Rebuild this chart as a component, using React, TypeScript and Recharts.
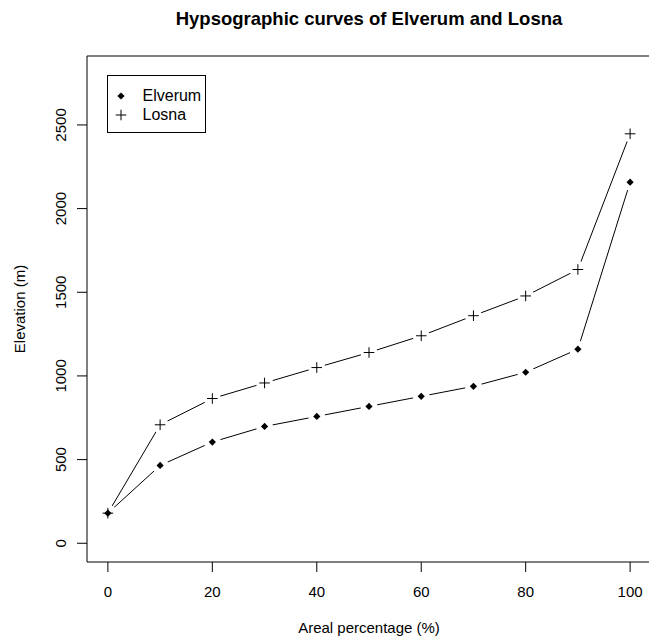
import { ComposedChart, Line, XAxis, YAxis, Legend, Label, ReferenceLine } from 'recharts'

const areaPct = [0, 10, 20, 30, 40, 50, 60, 70, 80, 90, 100]
const elverum = [180, 465, 605, 698, 758, 818, 878, 938, 1022, 1160, 2158]
const losna = [180, 708, 865, 958, 1050, 1140, 1240, 1360, 1478, 1636, 2447]
const xTicks = [0, 20, 40, 60, 80, 100]
const yTicks = [0, 500, 1000, 1500, 2000, 2500]

const X_DOMAIN = [-4, 104]
const Y_DOMAIN = [-112, 2912]

const FONT = '"Liberation Sans", Arial, Helvetica, sans-serif'

const data = areaPct.map((p, i) => ({ pct: p, elverum: elverum[i], losna: losna[i] }))

function diamondPath(cx: number, cy: number, r = 3.6) {
  return `M${cx},${cy - r}L${cx + r},${cy}L${cx},${cy + r}L${cx - r},${cy}Z`
}

function plusPath(cx: number, cy: number, r = 5.3) {
  return `M${cx - r},${cy}H${cx + r}M${cx},${cy - r}V${cy + r}`
}

// white disc under every point, so the lines stop short of it (R's type="b")
const halo = (props: any) => (
  <circle key={`h-${props.dataKey}-${props.index}`} cx={props.cx} cy={props.cy} r={8.5} fill="#fff" />
)

const diamondDot = (props: any) => (
  <path key={`d-${props.index}`} d={diamondPath(props.cx, props.cy)} fill="#000" />
)

const plusDot = (props: any) => (
  <path key={`p-${props.index}`} d={plusPath(props.cx, props.cy)} stroke="#000" strokeWidth={1} fill="none" />
)

function YTick({ x, y, payload }: any) {
  return (
    <text x={x} y={y} transform={`rotate(-90, ${x}, ${y})`} textAnchor="middle"
      fontSize={15} fontFamily={FONT} fill="#000">
      {payload.value}
    </text>
  )
}

function XTitle({ viewBox }: any) {
  return (
    <text x={viewBox.x + viewBox.width / 2} y={viewBox.y + 71} textAnchor="middle"
      fontSize={15} fontFamily={FONT} fill="#000">
      Areal percentage (%)
    </text>
  )
}

function YTitle({ viewBox }: any) {
  const x = 25
  const y = viewBox.y + viewBox.height / 2
  return (
    <text x={x} y={y} transform={`rotate(-90, ${x}, ${y})`} textAnchor="middle"
      fontSize={15} fontFamily={FONT} fill="#000">
      Elevation (m)
    </text>
  )
}

function LegendBox() {
  const row = { display: 'flex', alignItems: 'center', height: 19 }
  return (
    <div style={{
      boxSizing: 'border-box', width: 99, height: 58, border: '1px solid #000',
      background: '#fff', paddingTop: 10, paddingLeft: 7, fontFamily: FONT, fontSize: 16,
      lineHeight: '19px', color: '#000',
    }}>
      <div style={row}>
        <svg width={12} height={12}><path d={diamondPath(6, 6)} fill="#000" /></svg>
        <span style={{ marginLeft: 15.5 }}>Elverum</span>
      </div>
      <div style={row}>
        <svg width={12} height={12}><path d={plusPath(6, 6)} stroke="#000" fill="none" /></svg>
        <span style={{ marginLeft: 15.5 }}>Losna</span>
      </div>
    </div>
  )
}

export default function App() {
  return (
    <div style={{
      position: 'fixed', top: 0, left: 0, width: 649, height: 641,
      overflow: 'hidden', background: '#fff',
    }}>
      <div style={{
        position: 'absolute', left: 0, top: 10, width: 738, textAlign: 'center',
        fontFamily: FONT, fontWeight: 'bold', fontSize: 18.5, lineHeight: '18px', color: '#000',
      }}>
        Hypsographic curves of Elverum and Losna
      </div>
      <ComposedChart width={700} height={641} data={data}
        margin={{ top: 56, right: 49, bottom: 0, left: 0 }}>
        <XAxis dataKey="pct" type="number" domain={X_DOMAIN} ticks={xTicks} allowDataOverflow
          height={79} axisLine={{ stroke: '#000' }} tickSize={10} tickMargin={14}
          tickLine={{ stroke: '#000' }}
          tick={{ fill: '#000', fontSize: 15, fontFamily: FONT }}>
          <Label value="Areal percentage (%)" content={XTitle} />
        </XAxis>
        <YAxis type="number" domain={Y_DOMAIN} ticks={yTicks} allowDataOverflow
          width={87} axisLine={{ stroke: '#000' }} tickSize={10} tickMargin={11}
          tickLine={{ stroke: '#000' }} tick={YTick}>
          <Label value="Elevation (m)" content={YTitle} />
        </YAxis>
        {/* top edge of the plot frame */}
        <ReferenceLine y={Y_DOMAIN[1]} stroke="#000" strokeWidth={1} />
        {/* connecting lines */}
        <Line dataKey="elverum" stroke="#000" strokeWidth={1} dot={false} activeDot={false} isAnimationActive={false} />
        <Line dataKey="losna" stroke="#000" strokeWidth={1} dot={false} activeDot={false} isAnimationActive={false} />
        {/* gaps around the points */}
        <Line dataKey="elverum" stroke="none" dot={halo} activeDot={false} isAnimationActive={false} />
        <Line dataKey="losna" stroke="none" dot={halo} activeDot={false} isAnimationActive={false} />
        {/* point symbols */}
        <Line dataKey="elverum" stroke="none" dot={diamondDot} activeDot={false} isAnimationActive={false} />
        <Line dataKey="losna" stroke="none" dot={plusDot} activeDot={false} isAnimationActive={false} />
        <Legend layout="vertical" align="center" verticalAlign="middle" content={LegendBox}
          wrapperStyle={{ left: 107, top: 75, width: 99, height: 58 }} />
      </ComposedChart>
    </div>
  )
}
